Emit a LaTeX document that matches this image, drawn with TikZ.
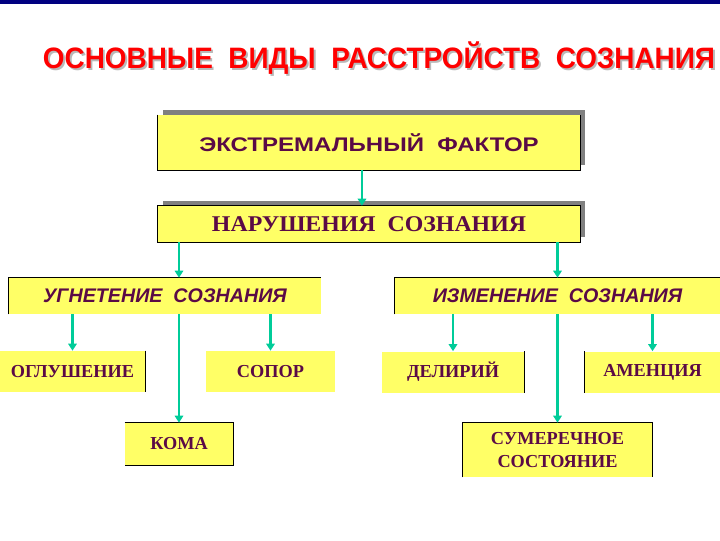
\documentclass[tikz,border=0pt]{standalone}
\usepackage{fontspec}
\setmainfont{Liberation Serif}
\setsansfont{Liberation Sans}
\usetikzlibrary{arrows.meta,shadows}
\definecolor{boxyellow}{RGB}{255,255,102}
\definecolor{inkpurple}{RGB}{90,10,70}
\definecolor{arrowteal}{RGB}{0,204,153}
\definecolor{barnavy}{RGB}{0,0,128}
\definecolor{titlered}{RGB}{255,0,0}
\newcommand{\greyshadow}[1]{\makebox[0pt][l]{\hspace{1.4pt}\raisebox{-1.4pt}{\color{gray!55}#1}}#1}

\begin{document}
\begin{tikzpicture}[x=0.025cm, y=-0.025cm,
    box/.style={fill=boxyellow, inner sep=0pt, text=inkpurple, align=center,
      font=\bfseries\fontsize{13}{17}\selectfont},
    shadowed/.style={drop shadow={shadow xshift=0.125cm, shadow yshift=0.125cm,
      fill=gray, opacity=1}},
    edge/.style={line width=0.7pt},
    arr/.style={arrowteal, line width=1.5pt, -{Triangle[width=6pt,length=5pt]}}]
  \useasboundingbox (0,0) rectangle (720,540);
  \fill[barnavy] (0,0) rectangle (720,4);

  \node[text=titlered, font=\sffamily\bfseries\fontsize{21}{25}\selectfont] (title) at (379,59)
    {\scalebox{0.945}[1]{\greyshadow{ОСНОВНЫЕ\ \ ВИДЫ\ \ РАССТРОЙСТВ\ \ СОЗНАНИЯ}}};

  % top chain
  \node[box, shadowed, minimum width=10.55cm, minimum height=1.375cm,
    font=\sffamily\bfseries\fontsize{14}{17}\selectfont] (ext) at (369,142.5)
    {\raisebox{-3.5pt}{\scalebox{1.22}[1]{ЭКСТРЕМАЛЬНЫЙ\ \ ФАКТОР}}};
  \node[box, shadowed, minimum width=10.55cm, minimum height=0.9cm,
    font=\bfseries\fontsize{16}{19}\selectfont] (nar) at (369,224)
    {\scalebox{1.06}[1]{НАРУШЕНИЯ\ \ СОЗНАНИЯ}};

  % two branches
  \node[box, minimum width=7.8cm, minimum height=0.9cm,
    font=\sffamily\bfseries\itshape\fontsize{14}{17}\selectfont] (ugn) at (165,296) {УГНЕТЕНИЕ\ \ СОЗНАНИЯ};
  \node[box, minimum width=8.125cm, minimum height=0.9cm,
    font=\sffamily\bfseries\itshape\fontsize{14}{17}\selectfont] (izm) at (557.5,296) {ИЗМЕНЕНИЕ\ \ СОЗНАНИЯ};

  % leaves
  \node[box, minimum width=3.625cm, minimum height=1.025cm] (ogl) at (72.5,371.5) {ОГЛУШЕНИЕ};
  \node[box, minimum width=3.225cm, minimum height=1.025cm] (sop) at (270.5,371.5) {СОПОР};
  \node[box, minimum width=3.55cm, minimum height=1.025cm] (del) at (453,372) {ДЕЛИРИЙ};
  \node[box, minimum width=3.375cm, minimum height=1.025cm] (amen) at (652.5,372) {АМЕНЦИЯ};
  \node[box, minimum width=2.7cm, minimum height=1.05cm] (kom) at (179,444) {КОМА};
  \node[box, minimum width=4.725cm, minimum height=1.35cm] (sum) at (557.5,450) {СУМЕРЕЧНОЕ\\СОСТОЯНИЕ};

  % visible box edges
  \draw[edge] (ext.north west) -- (ext.south west) -- (ext.south east) -- (ext.north east);
  \draw[edge] (nar.south west) rectangle (nar.north east);
  \draw[edge] (ugn.south west) -- (ugn.north west) -- (ugn.north east);
  \draw[edge] (izm.south west) -- (izm.north west) -- (izm.north east);
  \draw[edge] (ogl.north east) -- (ogl.south east);
  \draw[edge] (del.north east) -- (del.south east);
  \draw[edge] (amen.north west) -- (amen.south west);
  \draw[edge] (kom.north west) -- (kom.north east) -- (kom.south east) -- (kom.south west);
  \draw[edge] (sum.south west) -- (sum.north west) -- (sum.north east) -- (sum.south east);

  % arrows
  \draw[arr] ([xshift=-5pt]ext.south) -- ([xshift=-5pt]nar.north);
  \draw[arr] (nar.south -| kom.north) -- (ugn.north -| kom.north);
  \draw[arr] (nar.south -| sum.north) -- (izm.north -| sum.north);
  \draw[arr] (ugn.south -| ogl.north) -- (ogl.north);
  \draw[arr] (ugn.south -| kom.north) -- (kom.north);
  \draw[arr] (ugn.south -| sop.north) -- (sop.north);
  \draw[arr] (izm.south -| del.north) -- (del.north);
  \draw[arr] (izm.south -| sum.north) -- (sum.north);
  \draw[arr] (izm.south -| amen.north) -- (amen.north);
\end{tikzpicture}
\end{document}
